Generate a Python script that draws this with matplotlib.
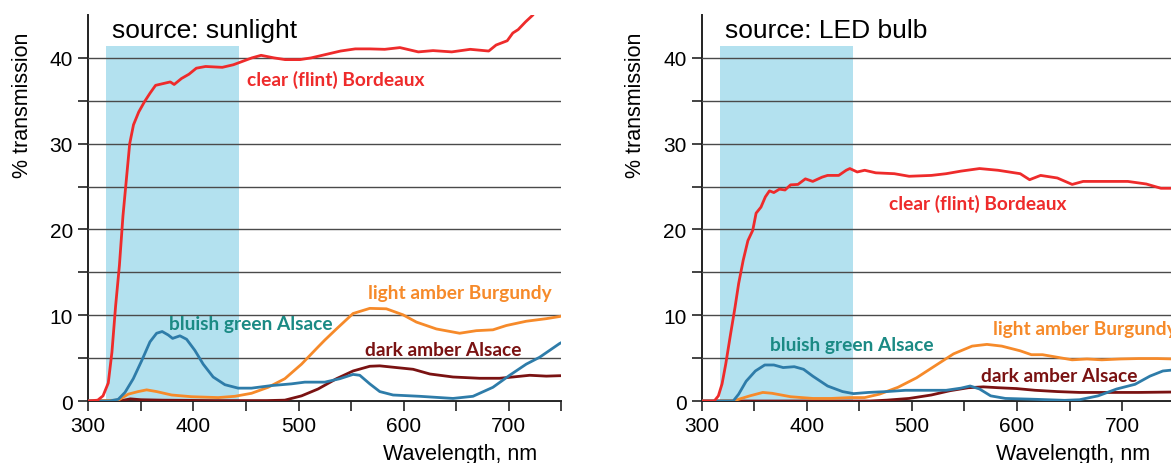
import matplotlib.pyplot as plt
from matplotlib.patches import Rectangle
from matplotlib.ticker import FixedLocator

# === data (wavelength nm, % transmission)
# --- source: sunlight
sun_clear_nm = [300, 309, 314, 319, 322.5, 326, 329.6, 333, 339.4, 343, 348, 353.5, 358.8, 364, 371, 378,
                381.7, 388.7, 395.8, 402.8, 411.6, 427.5, 438, 446.8, 455.6, 464.4, 476.8, 487.3, 501.4,
                512, 526, 540, 554, 568, 582, 596.5, 614, 628, 645.8, 663.4, 681, 688, 698.6, 703.9, 709,
                716, 723, 728]
sun_clear_val = [0, 0.1, 0.6, 2.1, 5.7, 11.1, 15.8, 21.6, 30, 32.2, 33.7, 34.9, 35.9, 36.8, 37.0, 37.2,
                 36.9, 37.6, 38.1, 38.8, 39.0, 38.9, 39.2, 39.6, 40.0, 40.3, 40.0, 39.8, 39.8,
                 40.0, 40.4, 40.8, 41.05, 41.05, 41.0, 41.2, 40.7, 40.85, 40.7, 41.0, 40.8, 41.5, 42.0, 42.9, 43.3,
                 44.2, 45.0, 46.0]

sun_green_nm = [300, 320, 328.5, 334.9, 342.8, 350.8, 358.7, 365, 370.3, 376, 380.2, 387.2, 393.5, 401.4,
                409.3, 418.8, 430, 442.6, 455.3, 474.3, 493.3, 506, 525, 539.3, 551.9, 558.3, 567.8, 577.3,
                590, 615.3, 647, 666, 685, 700.9, 716.7, 729.4, 738.9, 748.4, 750]
sun_green_val = [0, 0, 0.2, 1.0, 2.6, 4.7, 6.9, 7.9, 8.1, 7.7, 7.3, 7.6, 7.2, 5.9,
                 4.3, 2.8, 1.9, 1.5, 1.5, 1.8, 2.0, 2.2, 2.2, 2.6, 3.1, 3.0, 2.0, 1.1,
                 0.7, 0.55, 0.3, 0.55, 1.6, 3.0, 4.3, 5.1, 5.9, 6.7, 6.8]

sun_amber_nm = [300, 328.5, 338, 347.5, 355.5, 365, 379.3, 398.3, 423.6, 439.5, 455.3, 471.1, 487, 502.9,
                518.6, 525, 536.1, 551.9, 567.8, 583.6, 599.4, 612.2, 631.2, 653.3, 669.2, 685, 697.7,
                716.7, 735.8, 748.4, 750]
sun_amber_val = [0, 0.1, 0.8, 1.1, 1.3, 1.1, 0.7, 0.5, 0.4, 0.55, 0.9, 1.6, 2.6, 4.3,
                 6.3, 7.1, 8.4, 10.2, 10.8, 10.75, 10.05, 9.2, 8.4, 7.9, 8.2, 8.3, 8.8,
                 9.3, 9.6, 9.85, 9.9]

sun_dark_nm = [300, 330, 340, 350, 370, 420, 470, 487, 502.9, 518.6, 536.1, 551.9, 567.8, 577.3, 593.1,
               609, 625, 647, 672.3, 691.3, 704, 720, 735.8, 748.4, 750]
sun_dark_val = [0, 0, 0.25, 0.15, 0.1, 0.05, 0.05, 0.1, 0.6, 1.4, 2.6, 3.5, 4.05, 4.1, 3.9,
                3.7, 3.15, 2.8, 2.65, 2.65, 2.8, 3.0, 2.9, 2.95, 2.95]

# --- source: LED bulb
led_clear_nm = [300, 312, 315.9, 319.4, 322.9, 327.5, 331.7, 335.2, 339.5, 344, 348.6, 351.8, 356.4, 360.6,
                364.5, 368.7, 374, 379.3, 384.6, 391.6, 398.7, 405.7, 414.6, 419.8, 430.4, 437.5, 441, 448,
                455.1, 465.7, 483.3, 497.4, 518.5, 532.6, 546.7, 564.4, 582, 603.1, 612, 622.5, 638.4,
                652.5, 663, 687.7, 705.4, 723, 737, 750]
led_clear_val = [0, 0, 0.6, 2.0, 4.3, 7.8, 10.9, 13.7, 16.4, 18.7, 19.9, 21.9, 22.6, 23.8,
                 24.5, 24.3, 24.7, 24.6, 25.2, 25.25, 25.9, 25.6, 26.1, 26.3, 26.3, 26.9, 27.1, 26.7,
                 26.9, 26.6, 26.5, 26.2, 26.3, 26.5, 26.8, 27.1, 26.9, 26.5, 25.8, 26.3, 26.0,
                 25.25, 25.6, 25.6, 25.6, 25.3, 24.8, 24.8]

led_green_nm = [300, 330, 335.2, 342.3, 351.1, 360, 368.7, 377.5, 388.1, 396.9, 405.7, 419.8, 434, 444.5,
                458.6, 476.2, 493.9, 511.5, 532.6, 546.7, 555.5, 564.4, 575, 589, 617.2, 645.4, 659.5,
                677.2, 694.8, 712.4, 726.5, 738.8, 747, 750]
led_green_val = [0, 0, 0.8, 2.3, 3.5, 4.2, 4.2, 3.9, 4.0, 3.7, 2.9, 1.75, 1.1, 0.86,
                 1.0, 1.1, 1.25, 1.25, 1.25, 1.5, 1.75, 1.4, 0.6, 0.3, 0.2, 0.08, 0.15,
                 0.6, 1.4, 1.95, 2.9, 3.5, 3.6, 3.6]

led_amber_nm = [300, 330, 335.2, 345.8, 358.2, 367, 384.6, 405.7, 423.4, 441, 455.1, 469.2, 486.8, 504.4,
                522, 539.7, 557.3, 571.4, 585.5, 603.1, 613.7, 624.3, 638.4, 652.5, 666.6, 680.7, 698.3,
                715.9, 733.6, 750]
led_amber_val = [0, 0, 0.2, 0.6, 1.0, 0.9, 0.5, 0.3, 0.3, 0.4, 0.4, 0.8, 1.6, 2.7,
                 4.1, 5.5, 6.4, 6.6, 6.4, 5.85, 5.4, 5.4, 5.1, 4.8, 4.9, 4.8, 4.9,
                 4.95, 4.95, 4.9]

led_dark_nm = [300, 460, 476.2, 497.4, 518.5, 536.2, 553.8, 567.9, 582, 599.6, 617.2, 638.4, 659.5,
               687.7, 715.9, 750]
led_dark_val = [0, 0, 0.1, 0.3, 0.7, 1.2, 1.55, 1.65, 1.55, 1.45, 1.25, 1.1, 1.0,
                1.0, 1.0, 1.05]

# label text + where it sits (left x in nm, centre y)
names = ["clear (flint) Bordeaux", "bluish green Alsace", "light amber Burgundy", "dark amber Alsace"]
sun_label_pos = [(451, 37.6), (376.5, 9.0), (566, 12.6), (563, 6.0)]
led_label_pos = [(478, 23.1), (365, 6.6), (577, 8.5), (565.5, 3.0)]

colors = ["#ee2b2b", "#2e7ca9", "#f68a2a", "#7a1212"]
text_colors = ["#ee2b2b", "#1b8a84", "#f68a2a", "#7a1212"]

uv_band = (317, 443.7)
uv_top = 41.35

fig = plt.figure(figsize=(11.71, 4.64), dpi=100, facecolor="white")
plt.rcParams["font.family"] = ["Liberation Sans", "DejaVu Sans"]

panels = [
    ("source: sunlight", [sun_clear_nm, sun_green_nm, sun_amber_nm, sun_dark_nm],
     [sun_clear_val, sun_green_val, sun_amber_val, sun_dark_val], sun_label_pos, 0.0754),
    ("source: LED bulb", [led_clear_nm, led_green_nm, led_amber_nm, led_dark_nm],
     [led_clear_val, led_green_val, led_amber_val, led_dark_val], led_label_pos, 0.5992),
]

for title, xs, ys, lpos, x0 in panels:
    ax = fig.add_axes([x0, 0.1336, 0.4039, 0.8319])
    ax.set_xlim(300, 750)
    ax.set_ylim(0, 45)

    # blue band
    ax.add_patch(Rectangle((uv_band[0], 0), uv_band[1] - uv_band[0], uv_top,
                           facecolor="#b3e1ef", edgecolor="none", zorder=0))

    ax.yaxis.set_major_locator(FixedLocator([0, 10, 20, 30, 40]))
    ax.yaxis.set_minor_locator(FixedLocator([5, 15, 25, 35]))
    ax.xaxis.set_major_locator(FixedLocator([300, 400, 500, 600, 700]))
    ax.xaxis.set_minor_locator(FixedLocator([350, 450, 550, 650, 750]))
    ax.grid(axis="y", which="both", color="#4a4a4a", linewidth=1.0, zorder=1)
    ax.set_axisbelow(False)

    for sp in ["top", "right"]:
        ax.spines[sp].set_visible(False)
    for sp in ["left", "bottom"]:
        ax.spines[sp].set_color("#222222")
        ax.spines[sp].set_linewidth(1.4)
    ax.tick_params(which="both", direction="out", length=7, width=1.2, color="#222222",
                   labelsize=15, pad=4)

    # curves (dark red, orange, blue, red on top)
    for i in [3, 2, 1, 0]:
        ax.plot(xs[i], ys[i], color=colors[i], linewidth=2.0, zorder=3 + (3 - i) * 0.1,
                solid_joinstyle="round")

    for name, (lx, ly), tc in zip(names, lpos, text_colors):
        ax.text(lx, ly, name, color=tc, fontsize=13.8, fontweight="bold", family="Lato",
                ha="left", va="center", zorder=5)

    ax.text(322.5, 42.4, title, fontsize=19, ha="left", va="baseline", zorder=5)

    ax.set_ylabel("% transmission", fontsize=15.5)
    ax.yaxis.set_label_coords(-0.117, 0.769)
    ax.text(0.948, -0.15, "Wavelength, nm", fontsize=15.5, ha="right", va="baseline",
            transform=ax.transAxes)

plt.savefig("out.png", dpi=100, facecolor="white")
